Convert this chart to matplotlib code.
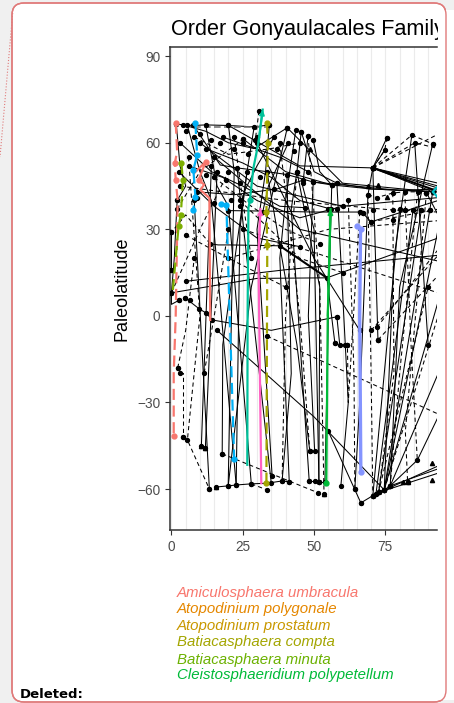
import matplotlib
matplotlib.use("Agg")
import matplotlib.pyplot as plt
from matplotlib.patches import FancyBboxPatch, Rectangle
from matplotlib.lines import Line2D

# species shown in the (cut) legend
legend_names = ["Amiculosphaera umbracula", "Atopodinium polygonale", "Atopodinium prostatum",
                "Batiacasphaera compta", "Batiacasphaera minuta", "Cleistosphaeridium polypetellum"]
legend_colors = ["#F8766D", "#E58700", "#C99800", "#A3A500", "#6BB100", "#00BA38"]

x_ticks = [0, 25, 50, 75]
y_ticks = [-60, -30, 0, 30, 60, 90]

# black trajectories (x, paleolatitude)
solid_paths = [
    [(1.7, 66.5), (4.2, 66.2), (7.7, 66), (12, 66.2), (20, 66), (29, 65.5), (34.3, 66.2)],
    [(4.2, 66.2), (12, 64), (20, 60), (29, 58), (40.6, 65.2)],
    [(7.7, 66), (17.1, 52.3), (23, 51.3), (33.5, 50), (40.5, 49), (49.7, 46.4), (56.2, 45.4)],
    [(1.7, 66.5), (3, 52), (5, 45), (2, 40)],
    [(5.6, 66), (10, 50), (14, 40), (22.7, -58.6)],
    [(12, 66.2), (16, 45), (20, 38), (28, -58.2)],
    [(20, 66), (22, 50), (19.9, -58.9)],
    [(29, 65.5), (26.5, 50), (24, 30), (22.7, -58.6)],
    [(34.3, 66.2), (33, 50), (30, 30), (35.3, -55.5)],
    [(40.6, 65.2), (36, 45), (28, 10), (19.9, -58.9)],
    [(43.6, 64.5), (40, 40), (38, 20), (41.3, -57.5)],
    [(45.5, 63.8), (44, 50), (42, 37), (48.3, -57.2)],
    [(47.9, 62.4), (46, 45), (50, 30), (51.7, -57.5)],
    [(49.7, 61), (52, 50), (56.2, 45.4)],
    [(45.5, 63.8), (50, 50), (58, 46)],
    [(25.2, 61.3), (40, 50), (56.2, 45.4), (70, 44), (91.6, 43)],
    [(40.6, 65.2), (60, 46), (91.6, 43)],
    [(20, 66), (45, 52), (70.6, 51.3)],
    [(2, 40), (1, 20), (0, 8), (0, 4), (2.8, 5.5)],
    [(0, 29), (0, 16)],
    [(4.9, 6.2), (9.8, 2.4), (12.2, 1), (14.3, -1.4), (35, -5), (58, -0.3)],
    [(0, 8), (30, 13), (54.5, 13.2), (93.5, 27)],
    [(5, 12), (40, 16), (93.5, 21)],
    [(16, -5), (50, -35), (74.6, -60.3)],
    [(54.5, 13.2), (57.3, -9.4)],
    [(58, -0.3), (59, -10), (60.7, -10), (61.7, -10)],
    [(15.7, -59.3), (19.9, -58.9), (22.7, -58.6), (28, -58.2), (33.5, -58), (38.8, -57.2), (41.3, -57.5)],
    [(48.3, -57.2), (50.2, -57.2)],
    [(51.7, -57.5), (53.8, -57.5)],
    [(70.6, -62.3), (71.7, -61.7), (72.6, -61.2), (74.6, -60.3), (76.7, -58.9), (93.5, -53)],
    [(71.7, -61.7), (93.5, -52)],
    [(72.6, -61.2), (93.5, -54.5)],
    [(70.6, -62.3), (80, 37)],
    [(71.7, -61.7), (84.7, 36.7)],
    [(72.6, -61.2), (87.6, 36.7)],
    [(74.6, -60.3), (93.5, 30)],
    [(74.6, -60.3), (93.5, 5)],
    [(76.7, -58.9), (93.5, -20)],
    [(76.7, -58.9), (86.2, -50), (93.5, -35)],
    [(74.6, -60.3), (91.6, 43)],
    [(66.4, -64.8), (70.6, -62.3)],
    [(66.4, -64.8), (55, -40)],
    [(70.6, 51.3), (68.9, 42), (66, -30), (64.3, -60)],
    [(70.6, 51.3), (93.5, 46)],
    [(70.6, 51.3), (93.5, 45)],
    [(70.6, 51.3), (93.5, 44.3)],
    [(70.6, 51.3), (91.6, 43)],
    [(70.6, 51.3), (75.5, 61.7)],
    [(70.6, 51.3), (74.8, 57.5)],
    [(70.6, 51.3), (72.4, -8.3)],
    [(67, 35.7), (70, 32.6), (93.5, 40)],
    [(20, 36.5), (35, 36.3), (50, 36), (66, 36)],
    [(56.2, 45.4), (58, 46), (70, 44), (93.5, 43)],
    [(49.7, 46.4), (80, 43.5), (93.5, 44)],
    [(23, 51.3), (35, -58)],
    [(26.5, 50), (18, -10), (17.8, -47.8)],
    [(33.5, 50), (44, -10), (48.5, -46.8)],
    [(40.5, 49), (42, -20), (38.8, -57.2)],
    [(44, 50), (52, 10), (51.7, -57.5)],
    [(49.7, 46.4), (48, 0), (50.2, -46.8)],
    [(56.2, 45.4), (55, 0), (53.8, -57.5)],
    [(58, 46), (62, -30), (59.4, -58.9)],
    [(14, 52), (10.5, -45)],
    [(16, 50), (11.9, -45.7)],
    [(8, 40), (13.3, -60)],
    [(91.6, 59.6), (80, 10), (76.7, -58.9)],
    [(84.3, 62.7), (78, 20), (74.6, -60.3)],
    [(85.3, 60), (90, -10)],
    [(89.4, 42.7), (93.5, 35)],
    [(13.6, 25), (16.4, 24.6), (20.6, 24.6), (38, 24.3)],
    [(10, 60), (30, 45), (60, 38), (93.5, 41)],
    [(15, 55), (45, 30), (93.5, 19)],
    [(30, 60), (50, 20), (66, -5)],
    [(3, 60), (14, 50), (25, 45), (38, 38), (47, 37.5)],
    [(6, 52), (18, 48), (30, 40), (45, 34), (60, 38)],
    [(12, 58), (25, 53), (35, 48), (45, 40), (56, 37)],
    [(36, 62), (30, 52), (26, 44), (24, 38)],
    [(41, 60), (34, 45), (32, 36)],
    [(18, 62), (38, 55), (48, 50)],
    [(9, 43), (22, 42), (37, 44), (46, 47)],
    [(2.5, 50), (15, 38), (30, 27), (45, 24)],
]
thick_paths = [
    [(38, 24.3), (54.5, 13.2)],
    [(70.6, 51.3), (92.5, 43.5)],
]

dashed_paths = [
    [(30.7, 71), (29.4, 61)],
    [(2, 37), (10, 50), (25.2, 61.3)],
    [(3, 45), (40, 40), (77.6, 36.7), (93.5, 36)],
    [(4.2, -42), (5.6, -43), (13.3, -60)],
    [(17.8, -47.8), (51.4, -61.3)],
    [(28, -58.2), (33.5, -60.3)],
    [(33.5, -7), (93.5, -34)],
    [(70.6, 51.3), (84.3, 62.7), (91.6, 59.6)],
    [(75.5, 61.7), (74.8, 57.5), (70.6, 51.3)],
    [(70.6, 51.3), (85.3, 60), (93.5, 58)],
    [(70.6, 51.3), (93.5, 63)],
    [(3.1, -19.7), (4.2, -19.7), (4.2, -42)],
    [(2.2, -18), (5, -5), (8, 20)],
    [(11.5, -19.7), (15, 0), (20, 30)],
    [(0, 8), (10, 30), (20, 50)],
    [(6, 55), (10, 0), (5.6, -43)],
    [(38, 60), (45, 0), (48.5, -46.8)],
    [(47.9, 62.4), (52, 10), (53.5, -61.7)],
    [(44, 50), (40, 0), (38.8, -57.2)],
    [(62, 40), (64, -20), (64.3, -60)],
    [(66, 36), (62, -30), (61.7, -10)],
    [(68.9, 42), (70, -20), (70.6, -62.3)],
    [(77.6, 42.6), (78, -20), (72.6, -61.2)],
    [(81.8, 43), (84, -10), (86.2, -50)],
    [(86.3, 43), (80, -20), (76.7, -58.9)],
    [(89.4, 42.7), (82, -40), (82.8, -57.5)],
    [(72.4, -8.3), (93.5, 14)],
    [(70, -5), (93.5, 21)],
    [(72, -4), (93.5, 23)],
    [(72.6, -61.2), (90, 10)],
    [(74.6, -60.3), (93.5, 0)],
    [(20, 20), (55, 30), (93.5, 33)],
    [(25, 30), (93.5, 8)],
    [(13.6, 25), (5, 35), (0, 29)],
    [(5, 28), (20, 20), (40, 10)],
    [(24, 40), (45, 20), (60, 15)],
    [(70, 32.6), (93.5, 37)],
    [(81.8, 36.7), (84.7, 36.7), (87.6, 36.7), (90.5, 36.7)],
    [(68.9, 42), (72, 41), (77.6, 42.6), (81.8, 43), (86.3, 43), (89.4, 42.7)],
    [(8, 62), (20, 56), (35, 58), (45, 60)],
    [(15, 48), (28, 38), (40, 30), (52, 25)],
    [(22, 62), (25, 40), (28, 20)],
]
gray_dashed = [(8, 65.5), (34, 65.5)]

# isolated occurrence points
cluster_x = [5, 10, 14, 17, 22, 25, 27, 30, 37, 43, 12, 19, 24, 31, 36, 46, 9, 15, 21,
             2.8, 4.9, 6.6, 9.8, 12.2, 14.3, 2.2, 0, 0, 0, 57.3, 59, 60.7, 61.7, 72.4,
             77.6, 70, 67, 70.6, 77.6, 81.8, 84.7, 87.6, 90.5, 72, 55, 58]
cluster_y = [64, 63, 61, 60, 58, 60, 56, 62, 58, 57, 49, 47, 46, 48, 44, 46, 41, 39, 40,
             5.5, 6.2, 5.5, 2.4, 1, -1.4, -18, 29, 16, 8, -9.4, -10, -10, -10, -8.3,
             33.2, 32.6, 35.7, 36.7, 36.7, 36.7, 36.7, 36.7, 36.7, 41, 37, 37]

triangles_x = [10.5, 11.9, 15.7, 53.5, 81.3, 82.8, 91.5, 91.5, 69, 72.4, 75.5, 48.6]
triangles_y = [-45, -45.7, -59.3, -61.7, -57.5, -57.5, -51, -56.8, 45, 45.4, 41.2, 57.9]

# coloured species trajectories
salmon_a = [(1.5, 67), (2, 57), (1.2, 53), (1.5, 47), (2.2, 40), (1.5, 0), (0.8, -20), (0.8, -41.5)]
salmon_b = [(8, 49.5), (12, 53.4), (9.5, 47), (11.5, 45.5), (10.1, 43.7), (13.3, 40.9), (13.6, -1.4)]
blue_a = [(8.4, 66.9), (9, 55.8), (7.7, 50.6), (8.4, 41.3), (7.6, 36.7)]
blue_b = [(17.5, 38.8), (19.3, 38.5), (19.5, 30), (22, -49.6)]
teal = [(32, 71.5), (30.5, 60), (28.7, 51), (27.5, 40), (27, 37.5), (26.7, 0), (26.6, -51.6)]
pink = [(31.2, 37), (30.5, 20), (31.5, -58)]
olive = [(33.5, 67), (33.8, 60), (33.3, 36), (33.6, 24.5), (33.3, -58)]
minuta = [(3.5, 53), (4, 47), (3.3, 35), (2.5, 31), (0.5, 9)]
green = [(55.8, 37), (54.8, 0), (54.3, -58)]
periwinkle = [(65.2, 31), (66.3, 30), (66, 0), (66.4, -54)]
cyan = [(93.5, 45), (91.6, 43), (93.5, 41)]

W, H = 454, 703
fig = plt.figure(figsize=(W / 100, H / 100), dpi=100, facecolor="#f0f0f0")
inch = fig.dpi_scale_trans


def px(x, y):
    return x / 100, (H - y) / 100


frame_col = "#e07a7a"
frame = FancyBboxPatch(px(12, 702), 434 / 100, 699 / 100, boxstyle="round,pad=0,rounding_size=0.12",
                       transform=inch, facecolor="white", edgecolor=frame_col, lw=1.0, zorder=-2)
fig.patches.append(frame)
fig.lines.append(Line2D([0.127, 0.0], [px(0, 13)[1], px(0, 157)[1]], transform=inch,
                        color=frame_col, lw=0.8, ls=":", zorder=-1))

ax = fig.add_axes([170 / W, 1 - 530 / H, (437 - 170) / W, (530 - 47) / H])
ax.set_xlim(-0.5, 93.1)
ax.set_ylim(-74.2, 93.2)

for gx in range(0, 95, 5):
    ax.axvline(gx, color="#ebebeb", lw=0.8, zorder=0)


def xy(path):
    return [p[0] for p in path], [p[1] for p in path]


def ends(path):
    pts = [p for p in (path[0], path[-1]) if p[0] < 92.5]
    return xy(pts)


for p in solid_paths:
    ax.plot(*xy(p), color="black", lw=0.75, zorder=2)
    ax.plot(*ends(p), "o", color="black", ms=2.8, zorder=3)
for p in thick_paths:
    ax.plot(*xy(p), color="black", lw=1.5, zorder=2)
for p in dashed_paths:
    ax.plot(*xy(p), color="black", lw=0.75, ls=(0, (4, 3)), zorder=2)
    ax.plot(*ends(p), "o", color="black", ms=2.8, zorder=3)
ax.plot(*xy(gray_dashed), color="#777777", lw=1.2, ls=(0, (4, 2)), zorder=2)
ax.plot(cluster_x, cluster_y, "o", color="black", ms=2.8, zorder=3)
ax.plot(triangles_x, triangles_y, "^", color="black", ms=3, zorder=3)

species = [
    (salmon_a, "#F8766D", "long", [0, 2, 3, 7]), (salmon_b, "#F8766D", "solid", [1, 2]),
    (blue_a, "#00B0F6", "long", [0, 1, 2, 3, 4]), (blue_b, "#00B0F6", "long", [0, 1, 3]),
    (teal, "#00C19A", "solid", [3]), (pink, "#FF61C3", "solid", []),
    (olive, "#A3A500", "long", [0, 1, 2, 3, 4]), (minuta, "#7CAE00", "long", [0, 1, 2, 3]),
    (green, "#00BA38", "solid", [2]), (periwinkle, "#8494FF", "solid", [0, 1, 3]),
    (cyan, "#00BFC4", "solid", []),
]
for path, col, style, marks in species:
    ls = (0, (5, 2.5)) if style == "long" else "-"
    lw = 2.4 if col == "#8494FF" else 1.6
    ax.plot(*xy(path), color=col, lw=lw, ls=ls, zorder=4)
    ax.plot(*xy([path[i] for i in marks]), "o", color=col, ms=3.5, zorder=5)

# small arrow heads at the end of some trajectories
for path, col in [(teal, "#00C19A"), (pink, "#FF61C3"), (green, "#00BA38")]:
    ax.annotate("", xy=path[0], xytext=path[1],
                arrowprops=dict(arrowstyle="-|>", color=col, lw=1.4, mutation_scale=7,
                                shrinkA=0, shrinkB=0), zorder=5)

ax.set_xticks(x_ticks)
ax.set_yticks(y_ticks)
ax.tick_params(colors="#333333", labelcolor="#4d4d4d", labelsize=9.8, length=3.5, width=0.8)
for s in ["left", "bottom", "top"]:
    ax.spines[s].set_color("#333333")
    ax.spines[s].set_linewidth(1.1)
ax.spines["right"].set_visible(False)
ax.set_ylabel("Paleolatitude", fontsize=13, family="Liberation Sans", labelpad=5)
for lab in ax.get_xticklabels() + ax.get_yticklabels():
    lab.set_family("Liberation Sans")

fig.text(171 / W, 1 - 35 / H, "Order Gonyaulacales Family", fontsize=15.6,
         family="Liberation Sans", va="baseline", ha="left")

# the picture is cut on the right side
fig.patches.append(Rectangle(px(437.5, 700), 8, 6.9, transform=inch, facecolor="white",
                             edgecolor="none", zorder=5))
fig.patches.append(FancyBboxPatch(px(12, 702), 434 / 100, 699 / 100,
                                  boxstyle="round,pad=0,rounding_size=0.12", transform=inch,
                                  facecolor="none", edgecolor=frame_col, lw=1.0, zorder=6))

legend_y = [593, 609, 626, 642, 660, 675]
for name, col, yy in zip(legend_names, legend_colors, legend_y):
    fig.text(177 / W, 1 - yy / H, name, color=col, fontsize=10.8, style="italic",
             family="Liberation Sans", va="center", ha="left")

fig.text(20 / W, 1 - 694 / H, "Deleted:", fontsize=9.5, fontweight="bold",
         family="DejaVu Sans", va="center", ha="left")

fig.savefig("out.png", dpi=100, facecolor=fig.get_facecolor())
